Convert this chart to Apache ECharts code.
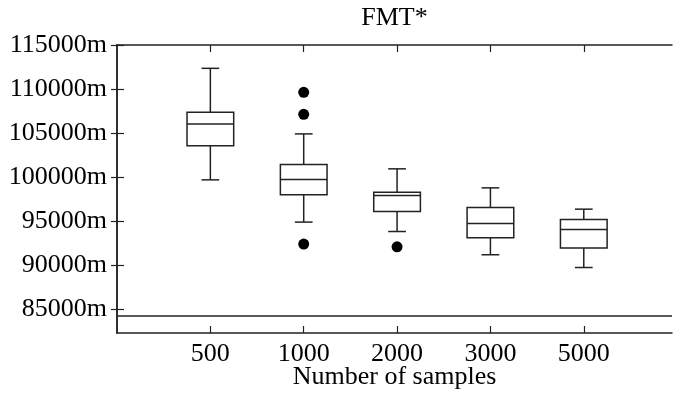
<!DOCTYPE html>
<html>
<head>
<meta charset="utf-8">
<script src="https://cdn.jsdelivr.net/npm/echarts@6/dist/echarts.min.js"></script>
<style>
html,body{margin:0;padding:0;background:#fff;}
#chart{width:673px;height:394px;}
</style>
</head>
<body>
<div id="chart"></div>
<script>
// ---- data ----
var categories = ['500', '1000', '2000', '3000', '5000'];
var whiskerLow  = [99680, 94880, 93810, 91170, 89720];
var q1          = [103540, 97980, 96080, 93090, 91930];
var median      = [106030, 99710, 97900, 94720, 94040];
var q3          = [107360, 101410, 98280, 96530, 95170];
var whiskerHigh = [112350, 104900, 100930, 98770, 96350];
var outlierCategory = ['1000', '1000', '1000', '2000'];
var outlierValue    = [109630, 107130, 92380, 92070];
var referenceValue = 84240;
var yTickValues = [85000, 90000, 95000, 100000, 105000, 110000, 115000];
var chartTitle = 'FMT*';
var xAxisTitle = 'Number of samples';

// ---- build ----
var FONT = "'Liberation Serif', 'Times New Roman', serif";
var INK = '#222';
var xPos = categories.map(function (c, i) { return i + 1; });
var boxData = categories.map(function (c, i) {
  return [xPos[i], whiskerLow[i], q1[i], median[i], q3[i], whiskerHigh[i]];
});
var outlierData = outlierCategory.map(function (c, i) {
  return [categories.indexOf(c) + 1, outlierValue[i]];
});

function renderBox(params, api) {
  var x = api.value(0);
  var lo = api.coord([x, api.value(1)]);
  var b1 = api.coord([x, api.value(2)]);
  var md = api.coord([x, api.value(3)]);
  var b3 = api.coord([x, api.value(4)]);
  var hi = api.coord([x, api.value(5)]);
  var bw = api.size([0.5, 0])[0];
  var cw = api.size([0.19, 0])[0];
  var cx = lo[0];
  var st = { stroke: INK, lineWidth: 1.5, fill: null };
  return {
    type: 'group',
    children: [
      { type: 'line', shape: { x1: cx, y1: hi[1], x2: cx, y2: b3[1] }, style: st },
      { type: 'line', shape: { x1: cx, y1: b1[1], x2: cx, y2: lo[1] }, style: st },
      { type: 'line', shape: { x1: cx - cw / 2, y1: hi[1], x2: cx + cw / 2, y2: hi[1] }, style: st },
      { type: 'line', shape: { x1: cx - cw / 2, y1: lo[1], x2: cx + cw / 2, y2: lo[1] }, style: st },
      { type: 'rect', shape: { x: cx - bw / 2, y: b3[1], width: bw, height: b1[1] - b3[1] },
        style: { stroke: INK, lineWidth: 1.5, fill: '#fff' } },
      { type: 'line', shape: { x1: cx - bw / 2, y1: md[1], x2: cx + bw / 2, y2: md[1] }, style: st }
    ]
  };
}

var XMAX = 5.945;
var chart = echarts.init(document.getElementById('chart'), null, { renderer: 'canvas' });
chart.setOption({
  animation: false,
  backgroundColor: '#fff',
  textStyle: { fontFamily: FONT },
  grid: { left: 117, right: 1, top: 45, bottom: 61, containLabel: false, outerBoundsMode: 'none' },
  xAxis: [{
    type: 'value', position: 'bottom', min: 0, max: XMAX,
    name: xAxisTitle, nameLocation: 'middle', nameGap: 31, nameMoveOverlap: false,
    nameTextStyle: { fontFamily: FONT, fontSize: 26, color: '#000' },
    axisLine: { show: true, lineStyle: { color: INK, width: 1.5 } },
    axisTick: { show: true, inside: true, length: 7, lineStyle: { color: INK, width: 1.2 }, customValues: xPos },
    axisLabel: { show: true, margin: 8, fontFamily: FONT, fontSize: 26, color: '#000', customValues: xPos,
      formatter: function (v) { var i = Math.round(v) - 1; return categories[i] || ''; } },
    splitLine: { show: false }
  }, {
    type: 'value', position: 'top', min: 0, max: XMAX,
    name: chartTitle, nameLocation: 'middle', nameGap: 14, nameMoveOverlap: false,
    nameTextStyle: { fontFamily: FONT, fontSize: 26, color: '#000' },
    axisLine: { show: true, lineStyle: { color: INK, width: 1.5 } },
    axisTick: { show: true, inside: true, length: 7, lineStyle: { color: INK, width: 1.2 }, customValues: xPos },
    axisLabel: { show: false },
    splitLine: { show: false }
  }],
  yAxis: [{
    type: 'value', position: 'left', min: 82280, max: 115000,
    axisLine: { show: true, lineStyle: { color: INK, width: 1.5 } },
    axisTick: { show: true, inside: true, length: 7, lineStyle: { color: INK, width: 1.2 }, customValues: yTickValues },
    axisLabel: { show: true, margin: 10, fontFamily: FONT, fontSize: 26, color: '#000', customValues: yTickValues,
      formatter: function (v) { return v + 'm'; } },
    splitLine: { show: false }
  }, {
    type: 'value', position: 'right', min: 82280, max: 115000,
    axisLine: { show: true, lineStyle: { color: INK, width: 1.5 } },
    axisTick: { show: true, inside: true, length: 6, lineStyle: { color: INK, width: 1.2 }, customValues: yTickValues },
    axisLabel: { show: false },
    splitLine: { show: false }
  }],
  series: [{
    type: 'custom',
    xAxisIndex: 0, yAxisIndex: 0,
    renderItem: renderBox,
    encode: { x: 0, y: [1, 2, 3, 4, 5] },
    data: boxData,
    markLine: {
      silent: true, symbol: ['none', 'none'], label: { show: false },
      lineStyle: { color: INK, width: 1.5, type: 'solid' },
      data: [{ yAxis: referenceValue }]
    }
  }, {
    type: 'scatter',
    xAxisIndex: 0, yAxisIndex: 0,
    symbol: 'circle', symbolSize: 11,
    itemStyle: { color: '#000', opacity: 1 },
    data: outlierData
  }]
});
</script>
</body>
</html>
